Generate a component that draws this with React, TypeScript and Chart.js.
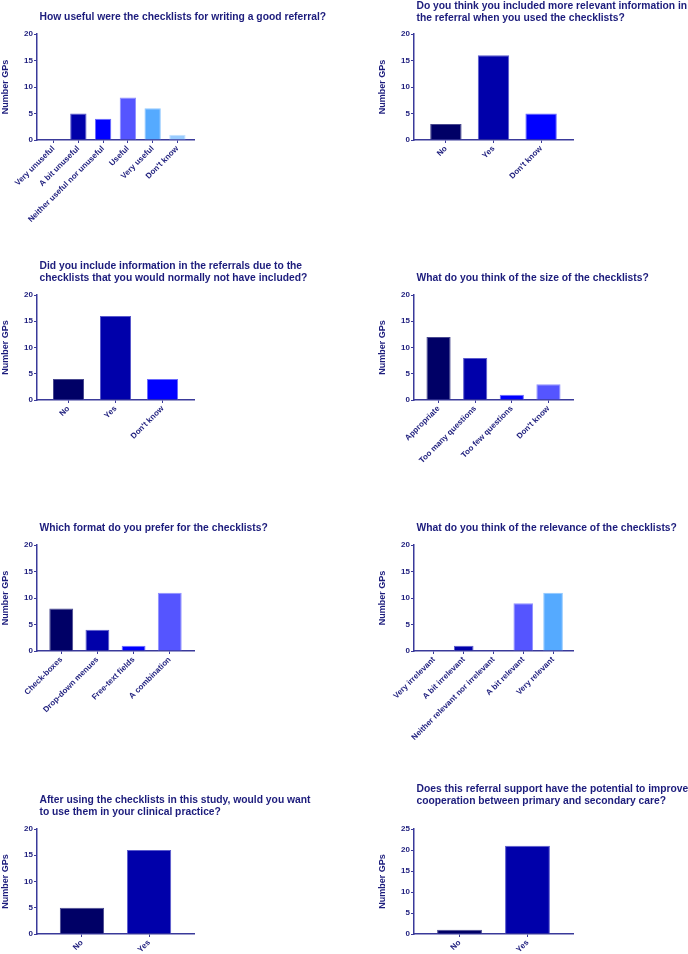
import React, { useEffect, useRef } from 'react';
import { Chart, registerables } from 'chart.js';

Chart.register(...registerables);

const FONT = '"Liberation Sans", Arial, Helvetica, sans-serif';
const TEXT = '#1c1c7c';
const AXIS = '#3a3a9a';

const BAR_COLORS = ['#000066', '#0000AA', '#0000FF', '#5555FF', '#55AAFF', '#99CCFF'];
const BAR_BORDERS = ['#4a4a90', '#5a5acc', '#6a6aff', '#9090ff', '#90c8ff', '#c4e2ff'];

const Y_TITLE = 'Number GPs';

// Q1
const q1Title = ['How useful were the checklists for writing a good referral?'];
const q1Labels = ['Very unuseful', 'A bit unuseful', 'Neither useful nor unuseful', 'Useful', 'Very useful', "Don't know"];
const q1Values = [0, 5, 4, 8, 6, 1];

// Q2
const q2Title = ['Do you think you included more relevant information in', 'the referral when you used the checklists?'];
const q2Labels = ['No', 'Yes', "Don't know"];
const q2Values = [3, 16, 5];

// Q3
const q3Title = ['Did you include information in the referrals due to the', 'checklists that you would normally not have included?'];
const q3Labels = ['No', 'Yes', "Don't know"];
const q3Values = [4, 16, 4];

// Q4
const q4Title = ['What do you think of the size of the checklists?'];
const q4Labels = ['Appropriate', 'Too many questions', 'Too few questions', "Don't know"];
const q4Values = [12, 8, 1, 3];

// Q5
const q5Title = ['Which format do you prefer for the checklists?'];
const q5Labels = ['Check-boxes', 'Drop-down menues', 'Free-text fields', 'A combination'];
const q5Values = [8, 4, 1, 11];

// Q6
const q6Title = ['What do you think of the relevance of the checklists?'];
const q6Labels = ['Very irrelevant', 'A bit irrelevant', 'Neither relevant nor irrelevant', 'A bit relevant', 'Very relevant'];
const q6Values = [0, 1, 0, 9, 11];

// Q7
const q7Title = ['After using the checklists in this study, would you want', 'to use them in your clinical practice?'];
const q7Labels = ['No', 'Yes'];
const q7Values = [5, 16];

// Q8
const q8Title = ['Does this referral support have the potential to improve', 'cooperation between primary and secondary care?'];
const q8Labels = ['No', 'Yes'];
const q8Values = [1, 21];

const yMaxes = [20, 20, 20, 20, 20, 20, 20, 25];

// layout (pixels) – kept apart from the data
const Y_AXIS_W = 37;
const X_AXIS_H = 110;
const TOP_PAD = 48;

const panels = [
  { title: q1Title, labels: q1Labels, values: q1Values, yMax: yMaxes[0], col: 0, topY: 34, zeroY: 140, gap: 17 },
  { title: q2Title, labels: q2Labels, values: q2Values, yMax: yMaxes[1], col: 1, topY: 34, zeroY: 140, gap: 16 },
  { title: q3Title, labels: q3Labels, values: q3Values, yMax: yMaxes[2], col: 0, topY: 295, zeroY: 400, gap: 17 },
  { title: q4Title, labels: q4Labels, values: q4Values, yMax: yMaxes[3], col: 1, topY: 295, zeroY: 400, gap: 17 },
  { title: q5Title, labels: q5Labels, values: q5Values, yMax: yMaxes[4], col: 0, topY: 545, zeroY: 651, gap: 17 },
  { title: q6Title, labels: q6Labels, values: q6Values, yMax: yMaxes[5], col: 1, topY: 545, zeroY: 651, gap: 17 },
  { title: q7Title, labels: q7Labels, values: q7Values, yMax: yMaxes[6], col: 0, topY: 829, zeroY: 934, gap: 17 },
  { title: q8Title, labels: q8Labels, values: q8Values, yMax: yMaxes[7], col: 1, topY: 829, zeroY: 934, gap: 28 },
];

const COLS = [
  { axisX: 37, rightX: 194, canvasRight: 344 },
  { axisX: 414, rightX: 573, canvasRight: 688 },
];

const panelTitle = {
  id: 'panelTitle',
  afterDraw(chart: any, _args: any, opts: any) {
    const lines: string[] = opts && opts.lines ? opts.lines : [];
    if (!lines.length) return;
    const { ctx, chartArea } = chart;
    ctx.save();
    ctx.font = `bold 10.3px ${FONT}`;
    ctx.fillStyle = TEXT;
    ctx.textAlign = 'left';
    ctx.textBaseline = 'middle';
    const n = lines.length;
    lines.forEach((t, i) => {
      const y = chartArea.top - opts.gap - (n - 1 - i) * 12;
      ctx.fillText(t, chartArea.left + 2.5, y);
    });
    ctx.restore();
  },
};
Chart.register(panelTitle);

function Panel({ spec }: { spec: any }) {
  const ref = useRef<HTMLCanvasElement | null>(null);
  const col = COLS[spec.col];
  const left = col.axisX - Y_AXIS_W;
  const top = spec.topY - TOP_PAD;
  const width = col.canvasRight - left;
  const height = TOP_PAD + (spec.zeroY - spec.topY) + X_AXIS_H;

  useEffect(() => {
    if (!ref.current) return;
    const n = spec.labels.length;
    const chart = new Chart(ref.current, {
      type: 'bar',
      data: {
        datasets: [
          {
            data: spec.values.map((v: number, i: number) => ({ x: i, y: v })),
            backgroundColor: spec.values.map((_: number, i: number) => BAR_COLORS[i % BAR_COLORS.length]),
            borderColor: spec.values.map((_: number, i: number) => BAR_BORDERS[i % BAR_BORDERS.length]),
            borderWidth: 1,
            barPercentage: 0.66,
            categoryPercentage: 1,
          },
        ],
      },
      options: {
        animation: false,
        responsive: false,
        events: [],
        layout: { padding: { top: TOP_PAD, left: 0, bottom: 0, right: col.canvasRight - col.rightX } },
        plugins: {
          legend: { display: false },
          tooltip: { enabled: false },
          title: { display: false },
          panelTitle: { lines: spec.title, gap: spec.gap },
        } as any,
        scales: {
          x: {
            type: 'linear',
            min: -0.67,
            max: n - 1 + 0.67,
            offset: false,
            grid: {
              display: true,
              drawOnChartArea: false,
              drawTicks: true,
              tickLength: 3,
              color: AXIS,
              offset: false,
            },
            border: { display: true, color: AXIS, width: 1.5 },
            ticks: {
              stepSize: 1,
              includeBounds: false,
              autoSkip: false,
              minRotation: 45,
              maxRotation: 45,
              padding: 1,
              color: TEXT,
              font: { family: FONT, size: 8, weight: 'bold' },
              callback: (v: any) => (Number.isInteger(v) && v >= 0 && v < n ? spec.labels[v] : ''),
            },
            afterFit: (scale: any) => {
              scale.height = X_AXIS_H;
            },
          },
          y: {
            type: 'linear',
            min: 0,
            max: spec.yMax,
            grid: {
              display: true,
              drawOnChartArea: false,
              drawTicks: true,
              tickLength: 3,
              color: AXIS,
            },
            border: { display: true, color: AXIS, width: 1.5 },
            ticks: {
              stepSize: 5,
              padding: 1,
              color: TEXT,
              font: { family: FONT, size: 8, weight: 'bold' },
            },
            title: {
              display: true,
              text: Y_TITLE,
              color: TEXT,
              padding: { top: 0, bottom: 0 },
              font: { family: FONT, size: 9, weight: 'bold' },
            },
            afterFit: (scale: any) => {
              scale.width = Y_AXIS_W;
            },
          },
        },
      } as any,
    });
    return () => chart.destroy();
  }, []);

  return (
    <canvas
      ref={ref}
      width={width}
      height={height}
      style={{ position: 'absolute', left, top, width, height }}
    />
  );
}

export default function App() {
  return (
    <div
      style={{
        position: 'absolute',
        left: 0,
        top: 0,
        width: 688,
        height: 954,
        overflow: 'hidden',
        background: '#ffffff',
      }}
    >
      {panels.map((p, i) => (
        <Panel key={i} spec={p} />
      ))}
    </div>
  );
}
